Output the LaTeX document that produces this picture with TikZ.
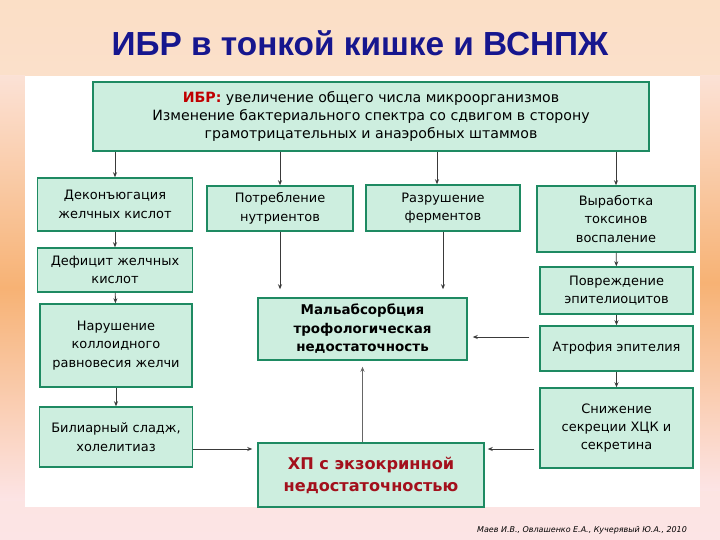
\documentclass[tikz,border=0pt]{standalone}
\usepackage{fontspec}
\setmainfont{DejaVu Sans}
\newfontfamily\titlefont{Liberation Sans}
\usepackage{tikz}
\usetikzlibrary{arrows.meta}

\definecolor{boxfill}{HTML}{CDEEDF}
\definecolor{boxline}{HTML}{1E8A62}
\definecolor{titleblue}{HTML}{16168E}
\definecolor{hpred}{HTML}{A3101C}
\definecolor{ibrred}{HTML}{C00000}
\definecolor{peach}{HTML}{FBDFC6}
\definecolor{pinkbg}{HTML}{FCE4E5}
\definecolor{orangebg}{HTML}{F7B274}
\definecolor{linegray}{HTML}{3A3A3A}

\begin{document}
\begin{tikzpicture}[x=1bp,y=-1bp,
		box/.style={draw=boxline,line width=1.5pt,fill=boxfill,align=center,inner sep=0pt,
			font=\fontsize{13}{18.5}\selectfont},
		arr/.style={draw=linegray,line width=0.8pt,-{Stealth[length=5pt,width=4pt]}}]
			% background and panel
			\useasboundingbox (0,0) rectangle (720,540);
			\shade[top color=peach,bottom color=pinkbg] (0,0) rectangle (720,540);
			\shade[top color=peach!50!pinkbg,bottom color=pinkbg,middle color=orangebg] (0,76) rectangle (25,500);
			\shade[top color=peach!50!pinkbg,bottom color=pinkbg,middle color=orangebg] (700,76) rectangle (720,490);
			\fill[white] (25,76) rectangle (700,507);
			\node[font=\titlefont\bfseries\fontsize{33.5}{38}\selectfont,text=titleblue] (title) at (360,43) {ИБР в тонкой кишке и ВСНПЖ};
			% boxes
			\node[box,minimum width=556bp,minimum height=69bp,font=\fontsize{14.2}{18.5}\selectfont] (ibr) at (371,116.5)
				{\textcolor{ibrred}{\textbf{ИБР:}} увеличение общего числа микроорганизмов\\
				Изменение бактериального спектра со сдвигом в сторону\\
				грамотрицательных и анаэробных штаммов};
			\node[box,minimum width=155bp,minimum height=53bp] (dekon) at (115,204.5) {Деконъюгация\\желчных кислот};
			\node[box,minimum width=146bp,minimum height=45bp] (potr) at (280,208.5) {Потребление\\нутриентов};
			\node[box,minimum width=154bp,minimum height=46bp] (razr) at (443,208) {Разрушение\\ферментов};
			\node[box,minimum width=158bp,minimum height=66bp] (vyrab) at (616,219) {Выработка\\токсинов\\воспаление};
			\node[box,minimum width=155bp,minimum height=44bp] (defic) at (115,270) {Дефицит желчных\\кислот};
			\node[box,minimum width=152bp,minimum height=83bp] (narush) at (116,345.5) {Нарушение\\коллоидного\\равновесия желчи};
			\node[box,minimum width=153bp,minimum height=60bp] (biliar) at (116,437) {Билиарный сладж,\\холелитиаз};
			\node[box,minimum width=209bp,minimum height=62bp,font=\bfseries\fontsize{13.5}{18.5}\selectfont] (malabs) at (362.5,329) {Мальабсорбция\\трофологическая\\недостаточность};
			\node[box,minimum width=226bp,minimum height=64bp,text=hpred,font=\bfseries\fontsize{16.2}{22}\selectfont] (hp) at (371,475) {ХП с экзокринной\\недостаточностью};
			\node[box,minimum width=153bp,minimum height=47bp] (povr) at (616.5,290.5) {Повреждение\\эпителиоцитов};
			\node[box,minimum width=153bp,minimum height=45bp] (atrof) at (616.5,348.5) {Атрофия эпителия};
			\node[box,minimum width=153bp,minimum height=80bp] (snizh) at (616.5,428) {Снижение\\секреции ХЦК и\\секретина};
			\node[font=\itshape\fontsize{8}{10}\selectfont] (author) at (582,530) {Маев И.В., Овлашенко Е.А., Кучерявый Ю.А., 2010};
			% connectors
			\coordinate (hpin) at (0,449);
			\draw[arr] (ibr.south -| dekon.north) -- (dekon.north);
			\draw[arr] (ibr.south -| potr.north) -- (potr.north);
			\draw[arr] ([xshift=-6bp]ibr.south -| razr.north) -- ([xshift=-6bp]razr.north);
			\draw[arr] (ibr.south -| vyrab.north) -- (vyrab.north);
			\draw[arr] (dekon) -- (defic);
			\draw[arr] (defic) -- (narush);
			\draw[arr] (narush) -- (biliar);
			\draw[arr] (vyrab) -- (povr);
			\draw[arr] (povr) -- (atrof);
			\draw[arr] (atrof) -- (snizh);
			\draw[arr,shorten >=8bp] (potr.south) -- (potr.south |- malabs.north);
			\draw[arr,shorten >=8bp] (razr.south) -- (razr.south |- malabs.north);
			\draw[arr,shorten <=10bp,shorten >=5bp] ([yshift=11.5bp]atrof.west) -- ([yshift=11.5bp]atrof.west -| malabs.east);
			\draw[arr,shorten >=5bp] (biliar.east |- hpin) -- (hp.west |- hpin);
			\draw[arr,shorten <=5bp,shorten >=3bp] (snizh.west |- hpin) -- (hp.east |- hpin);
			\draw[arr,line width=1.2pt,draw=gray!80!black,shorten >=6bp] (hp.north -| malabs.south) -- (malabs.south);
		\end{tikzpicture}
\end{document}
